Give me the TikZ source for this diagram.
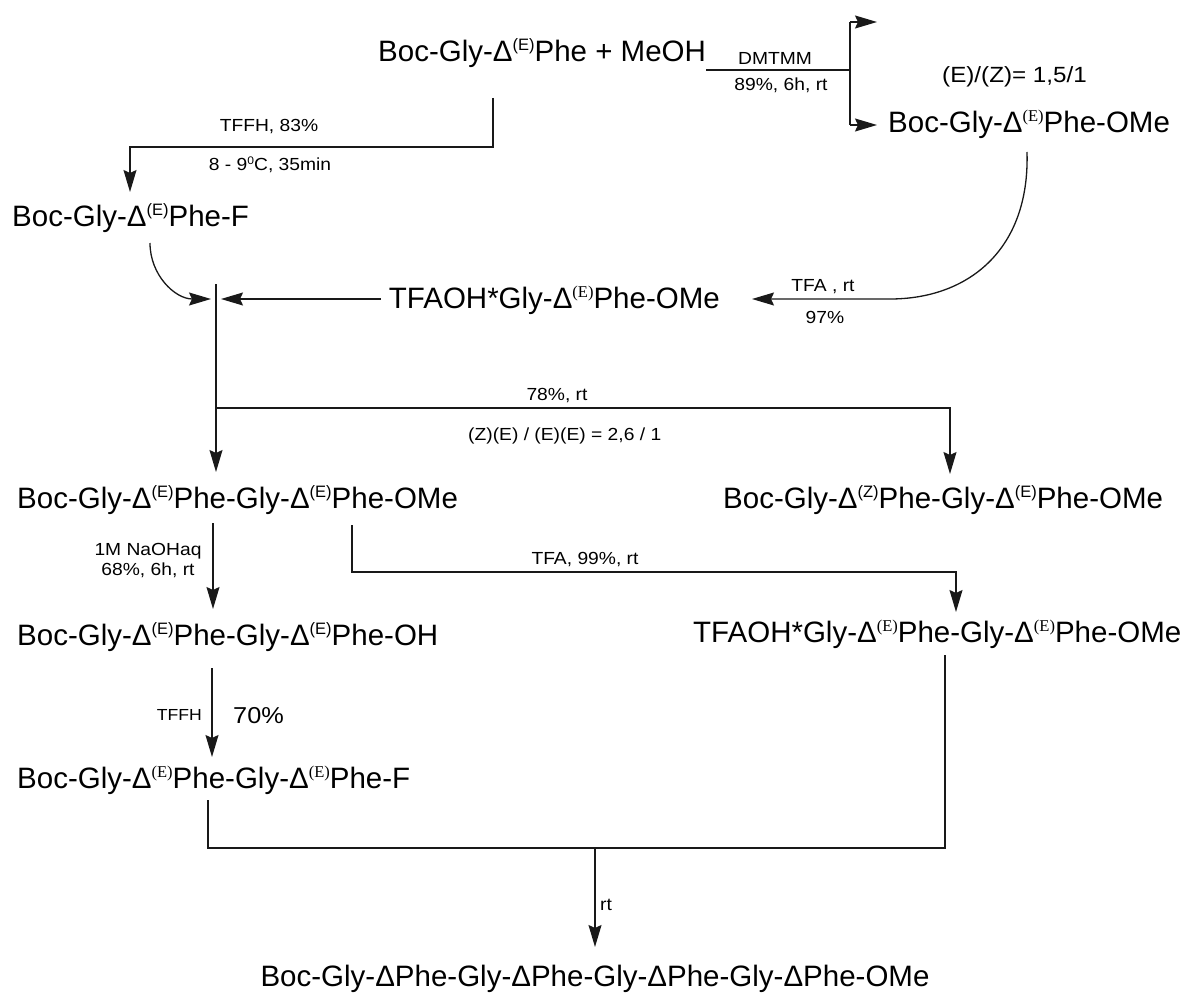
\documentclass[tikz,border=0pt]{standalone}
\usepackage{fontspec}
\setmainfont{Liberation Sans}
\newfontfamily\labfont[FakeStretch=1.1]{Liberation Sans}
\newfontfamily\serf{Liberation Serif}
\usetikzlibrary{arrows.meta}
\newcommand\supE[1]{\raisebox{11pt}{\fontsize{16.5}{16.5}\selectfont(#1)}}
\newcommand\supS[1]{\raisebox{11pt}{\fontsize{16.5}{16.5}\selectfont\serf(#1)}}
\newcommand\mydeg{\raisebox{6pt}{\fontsize{11}{11}\selectfont 0}}
\begin{document}
\begin{tikzpicture}[x=1pt,y=-1pt,
  mol/.style={font=\fontsize{29.5}{30}\selectfont, inner sep=0pt, anchor=base west},
  lab/.style={font=\labfont\fontsize{17.5}{18}\selectfont, inner sep=0pt, anchor=base},
  ln/.style={line width=1.3pt, black!90},
  arr/.style={ln, -{Stealth[length=22pt,width=13pt,inset=3pt]}}]
\fill[white] (0,0) rectangle (1203,1006);
\useasboundingbox (0,0) rectangle (1203,1006);

% molecules
\node[mol] (A) at (378,62) {Boc-Gly-Δ\supE{E}Phe + MeOH};
\node[mol] (B) at (888,133) {Boc-Gly-Δ\supS{E}Phe-OMe};
\node[mol] (C) at (12,226) {Boc-Gly-Δ\supE{E}Phe-F};
\node[mol, anchor=base east] (D) at (720,308) {TFAOH*Gly-Δ\supS{E}Phe-OMe};
\node[mol] (E) at (17,508) {Boc-Gly-Δ\supE{E}Phe-Gly-Δ\supE{E}Phe-OMe};
\node[mol] (F) at (723,508) {Boc-Gly-Δ\supE{Z}Phe-Gly-Δ\supE{E}Phe-OMe};
\node[mol] (H) at (17,645) {Boc-Gly-Δ\supE{E}Phe-Gly-Δ\supE{E}Phe-OH};
\node[mol] (G) at (693,642) {TFAOH*Gly-Δ\supS{E}Phe-Gly-Δ\supS{E}Phe-OMe};
\node[mol] (I) at (17,788) {Boc-Gly-Δ\supS{E}Phe-Gly-Δ\supS{E}Phe-F};
\node[mol, anchor=base] (J) at (595,986) {Boc-Gly-ΔPhe-Gly-ΔPhe-Gly-ΔPhe-Gly-ΔPhe-OMe};

% labels
\node[lab] (l1) at (775,65) {DMTMM};
\node[lab] (l2) at (781,91) {89\%, 6h, rt};
\node[lab, font=\labfont\fontsize{22}{22}\selectfont, anchor=base west] (ratio1) at (942,83) {(E)/(Z)= 1,5/1};
\node[lab] (l3) at (269,132) {TFFH, 83\%};
\node[lab] (l4) at (270,171) {8 - 9\mydeg C, 35min};
\node[lab] (l5) at (823,291) {TFA , rt};
\node[lab] (l6) at (825,323) {97\%};
\node[lab] (l7) at (557,400) {78\%, rt};
\node[lab, anchor=base west] (l8) at (468,440) {(Z)(E) / (E)(E) = 2,6 / 1};
\node[lab] (l9) at (148,555) {1M NaOHaq};
\node[lab] (l10) at (148,575) {68\%, 6h, rt};
\node[lab] (l11) at (585,564) {TFA, 99\%, rt};
\node[lab, anchor=base east, font=\labfont\fontsize{16}{16}\selectfont] (l12) at (202,720) {TFFH};
\node[lab, anchor=base west, font=\labfont\fontsize{23}{23}\selectfont] (l13) at (233,723) {70\%};
\node[lab, anchor=base west] (l14) at (600,910) {rt};

% coordinates
\coordinate (bar) at (850,70);
\coordinate (barT) at (850,22);
\coordinate (barB) at (850,125);
\coordinate (tipT) at (877,22);
\coordinate (tipB) at (877,125);
\coordinate (lb0) at (493,98);
\coordinate (lb1) at (130,147);
\coordinate (lb2) at (130,192);
\coordinate (cC) at (150,243);
\coordinate (mL) at (211,299);
\coordinate (mR) at (221,299);
\coordinate (Mtop) at (216,284);
\coordinate (Etip) at (216,472);
\coordinate (br) at (216,408);
\coordinate (Ftip) at (950,474);
\coordinate (bC) at (1027,152);
\coordinate (bK) at (890,299);
\coordinate (dR) at (752,299);
\coordinate (na0) at (213,523);
\coordinate (na1) at (213,609);
\coordinate (t0) at (352,525);
\coordinate (t1) at (956,572);
\coordinate (t2) at (956,612);
\coordinate (tf0) at (212,668);
\coordinate (tf1) at (212,757);
\coordinate (i0) at (208,800);
\coordinate (g0) at (945,655);
\coordinate (bl) at (208,848);
\coordinate (br2) at (945,848);
\coordinate (jm) at (595,848);
\coordinate (jt) at (595,947);

% connectors
\draw[ln] ([yshift=-8pt]A.base east) -- (bar);
\draw[ln] (barT) -- (barB);
\draw[arr] (barT) -- (tipT);
\draw[arr] (barB) -- (tipB);
\draw[arr] (lb0) |- (lb1) -- (lb2);
\draw[arr] (cC) .. controls (150,275) and (175,299) .. (mL);
\draw[arr] ([xshift=-8pt]D.west |- mR) -- (mR);
\draw[arr] (bC) .. controls (1030,250) and (968,299) .. (bK) -- (dR);
\draw[arr] (Mtop) -- (Etip);
\draw[arr] (br) -| (Ftip);
\draw[arr] (na0) -- (na1);
\draw[arr] (t0) |- (t1) -- (t2);
\draw[arr] (tf0) -- (tf1);
\draw[ln] (i0) -- (bl) -- (br2) -- (g0);
\draw[arr] (jm) -- (jt);
\end{tikzpicture}
\end{document}
